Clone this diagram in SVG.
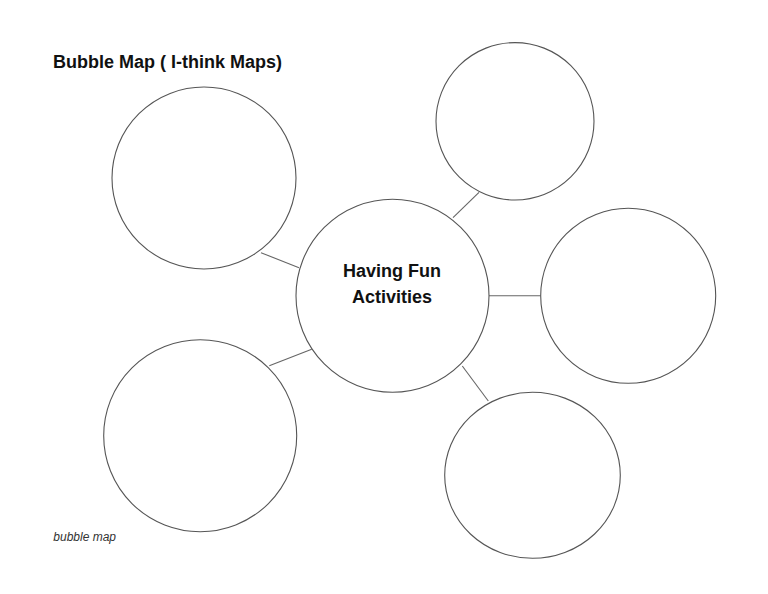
<svg xmlns="http://www.w3.org/2000/svg" width="768" height="594" viewBox="0 0 768 594">
<style>
.bubble{fill:#fff;stroke:#555;stroke-width:1.1}
.link{stroke:#666;stroke-width:1.1;fill:none}
.title{font-family:"Liberation Sans",Arial,sans-serif;font-weight:bold;font-size:18px;fill:#111}
.center{font-family:"Liberation Sans",Arial,sans-serif;font-weight:bold;font-size:18px;fill:#111;text-anchor:middle}
.caption{font-family:"Liberation Sans",Arial,sans-serif;font-style:italic;font-size:12px;fill:#333}
</style>
<rect width="768" height="594" fill="#fff"/>
<text class="title" x="53" y="67.5">Bubble Map ( I-think Maps)</text>
<g id="connectors">
<line class="link" x1="261" y1="252.7" x2="299" y2="267.7"/>
<line class="link" x1="453" y1="217.7" x2="479" y2="192.3"/>
<line class="link" x1="488.7" y1="295.7" x2="540.7" y2="295.7"/>
<line class="link" x1="462.3" y1="366" x2="488.3" y2="401"/>
<line class="link" x1="269.3" y1="365.7" x2="311.7" y2="349.3"/>
</g>
<g id="center-node">
<circle class="bubble" cx="392.5" cy="295.7" r="96.5"/>
<text class="center" x="392" y="277">Having Fun</text>
<text class="center" x="392" y="302.7">Activities</text>
</g>
<g id="bubble-top-left"><ellipse class="bubble" cx="204" cy="178" rx="92" ry="91"/></g>
<g id="bubble-top-right"><ellipse class="bubble" cx="515" cy="121.3" rx="79" ry="78.7"/></g>
<g id="bubble-right"><ellipse class="bubble" cx="628.2" cy="295.8" rx="87.5" ry="87.5"/></g>
<g id="bubble-bottom-right"><ellipse class="bubble" cx="532.5" cy="475.3" rx="87.8" ry="83"/></g>
<g id="bubble-bottom-left"><ellipse class="bubble" cx="200.2" cy="435.7" rx="96.5" ry="96"/></g>
<text class="caption" x="53.3" y="540.5">bubble map</text>
</svg>
